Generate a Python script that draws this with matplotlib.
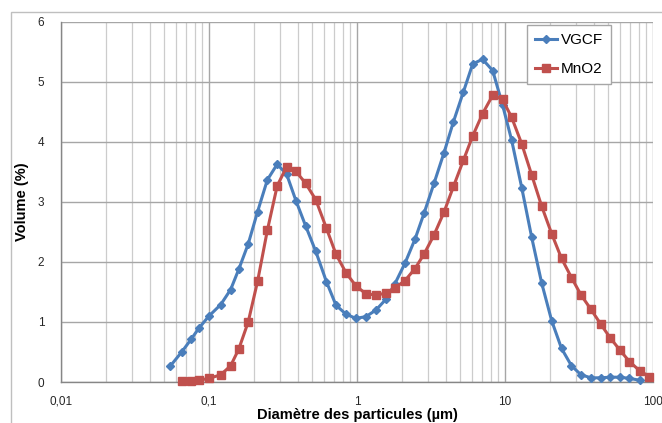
import matplotlib
matplotlib.use("Agg")
import matplotlib.pyplot as plt
from matplotlib.patches import Rectangle
from matplotlib.ticker import FixedLocator, NullFormatter, LogLocator

plt.rcParams['font.family'] = ['Liberation Sans', 'DejaVu Sans']

# Particle diameter bins (µm)
diameters = [0.0545, 0.0654, 0.0756, 0.0856, 0.100, 0.120, 0.140, 0.159, 0.184, 0.213,
             0.248, 0.289, 0.335, 0.387, 0.450, 0.526, 0.622, 0.721, 0.843, 0.984,
             1.150, 1.344, 1.570, 1.806, 2.110, 2.465, 2.836, 3.313, 3.870, 4.487,
             5.243, 6.049, 7.047, 8.26, 9.62, 11.09, 12.97, 15.15, 17.69, 20.68,
             24.09, 28.14, 32.63, 38.11, 44.19, 51.23, 59.84, 69.37, 81.07, 94.4]

vgcf = [0.26, 0.50, 0.71, 0.90, 1.10, 1.29, 1.54, 1.88, 2.30, 2.84,
        3.37, 3.63, 3.46, 3.02, 2.60, 2.18, 1.67, 1.28, 1.13, 1.06,
        1.09, 1.20, 1.38, 1.64, 1.98, 2.38, 2.81, 3.31, 3.82, 4.34,
        4.84, 5.30, 5.38, 5.19, 4.62, 4.03, 3.24, 2.41, 1.65, 1.02,
        0.56, 0.27, 0.12, 0.07, 0.07, 0.08, 0.08, 0.06, 0.03]

mno2 = [0.01, 0.01, 0.03, 0.06, 0.12, 0.27, 0.55, 1.00, 1.68,
        2.53, 3.27, 3.59, 3.51, 3.31, 3.04, 2.56, 2.13, 1.82, 1.60,
        1.47, 1.45, 1.48, 1.57, 1.69, 1.89, 2.13, 2.45, 2.83, 3.26,
        3.70, 4.10, 4.47, 4.78, 4.71, 4.41, 3.97, 3.45, 2.93, 2.47,
        2.06, 1.74, 1.45, 1.21, 0.97, 0.74, 0.53, 0.34, 0.19, 0.09]

x_ticks = [0.01, 0.1, 1, 10, 100]
x_tick_labels = ["0,01", "0,1", "1", "10", "100"]
y_ticks = [0, 1, 2, 3, 4, 5, 6]

W, H = 662, 423
fig = plt.figure(figsize=(W / 100, H / 100), dpi=100)

# outer chart frame
fig.patches.append(Rectangle((11 / W, -0.1), 1.2, 1 - 12 / H + 0.1, transform=fig.transFigure,
                             fill=False, edgecolor='#bfbfbf', linewidth=1.0, zorder=0))

ax = fig.add_axes([61 / W, 1 - 382 / H, (653 - 61) / W, (382 - 22) / H])
ax.set_xscale('log')
ax.set_xlim(0.01, 100)
ax.set_ylim(0, 6)

ax.plot(diameters[:len(vgcf)], vgcf, color='#4a7ebb', lw=2.2, marker='D', ms=4.0,
        label='VGCF', zorder=3, clip_on=False)
ax.plot(diameters[1:1 + len(mno2)], mno2, color='#c0504d', lw=2.2, marker='s', ms=5.5,
        label='MnO2', zorder=3, clip_on=False)

ax.xaxis.set_major_locator(FixedLocator(x_ticks))
ax.set_xticklabels(x_tick_labels)
ax.xaxis.set_minor_locator(LogLocator(base=10, subs=range(2, 10)))
ax.xaxis.set_minor_formatter(NullFormatter())
ax.set_yticks(y_ticks)

ax.grid(which='major', axis='both', color='#a6a6a6', lw=1.0, zorder=0)
ax.grid(which='minor', axis='x', color='#cccccc', lw=0.9, zorder=0)
ax.set_axisbelow(True)

for s in ['top', 'right']:
    ax.spines[s].set_visible(False)
for s in ['left', 'bottom']:
    ax.spines[s].set_color('#868686')
    ax.spines[s].set_linewidth(1.0)

ax.tick_params(axis='both', which='both', length=0, labelsize=8.5, colors='#262626')
ax.tick_params(axis='x', pad=10)
ax.tick_params(axis='y', pad=12)

ax.set_xlabel('Diamètre des particules (µm)', fontsize=10.5, fontweight='bold', labelpad=0)
ax.set_ylabel('Volume (%)', fontsize=10.5, fontweight='bold', labelpad=6)

leg = ax.legend(loc='upper left', bbox_to_anchor=((527 - 61) / (653 - 61), 1 - 3 / 360),
                fontsize=11, frameon=True, fancybox=False, edgecolor='#a6a6a6',
                framealpha=1.0, handlelength=1.4, handletextpad=0.25, borderpad=0.55,
                labelspacing=0.95, borderaxespad=0)
leg.get_frame().set_linewidth(1.0)

fig.savefig('out.png', dpi=100)
